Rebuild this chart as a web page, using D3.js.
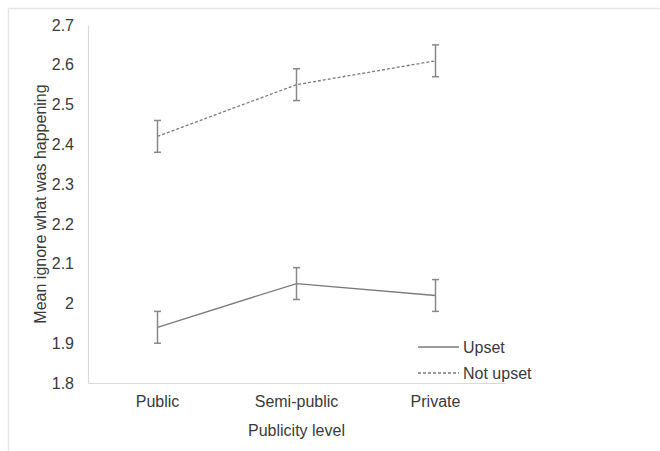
<!DOCTYPE html>
<html>
<head>
<meta charset="utf-8">
<script src="https://cdn.jsdelivr.net/npm/d3@7"></script>
<style>
  body { margin: 0; background: #fff; }
  svg text { font-family: "Liberation Sans", Arial, sans-serif; fill: #3a3a3a; }
</style>
</head>
<body>
<svg id="chart"></svg>
<script>
// chart data
const categories = ['Public', 'Semi-public', 'Private'];
const upsetMeans = [1.94, 2.05, 2.02];
const upsetErr = [0.04, 0.04, 0.04];
const notUpsetMeans = [2.42, 2.55, 2.61];
const notUpsetErr = [0.04, 0.04, 0.04];
const yTicks = [1.8, 1.9, 2, 2.1, 2.2, 2.3, 2.4, 2.5, 2.6, 2.7];

const width = 660, height = 451;
const margin = {top: 25, right: 155, bottom: 68, left: 88};
const fontSize = '16px';

const svg = d3.select('#chart')
  .attr('width', width)
  .attr('height', height);

// outer frame (only top and left edges show in the picture)
svg.append('path')
  .attr('d', `M8.5,${height} V8.5 H${width}`)
  .attr('fill', 'none')
  .attr('stroke', '#e6e6e6')
  .attr('stroke-width', 1.5);

const innerW = width - margin.left - margin.right;
const innerH = height - margin.top - margin.bottom;

const chart = svg.append('g')
  .attr('transform', `translate(${margin.left},${margin.top})`);

const xScale = d3.scaleBand()
  .domain(categories)
  .range([0, innerW]);

const yScale = d3.scaleLinear()
  .domain([1.8, 2.7])
  .range([innerH, 0]);

// axes
const xAxis = d3.axisBottom(xScale).tickSize(0).tickPadding(13);
const yAxis = d3.axisLeft(yScale).tickValues(yTicks).tickSize(0).tickPadding(14)
  .tickFormat(d => d3.format('')(+d.toFixed(1)));

const xAxisG = chart.append('g')
  .attr('transform', `translate(0,${innerH})`)
  .call(xAxis);
const yAxisG = chart.append('g').call(yAxis);

[xAxisG, yAxisG].forEach(g => {
  g.select('.domain').attr('stroke', '#d9d9d9').attr('stroke-width', 1.2);
  g.selectAll('text').style('font-size', fontSize).attr('fill', '#3a3a3a');
});

// axis titles
chart.append('text')
  .attr('x', innerW / 2)
  .attr('y', innerH + 53)
  .attr('text-anchor', 'middle')
  .style('font-size', fontSize)
  .text('Publicity level');

chart.append('text')
  .attr('transform', `translate(-42,${innerH / 2}) rotate(-90)`)
  .attr('text-anchor', 'middle')
  .style('font-size', fontSize)
  .text('Mean ignore what was happening');

const series = [
  {name: 'Upset', means: upsetMeans, err: upsetErr, dash: null},
  {name: 'Not upset', means: notUpsetMeans, err: notUpsetErr, dash: '3,2'}
];

const xc = c => xScale(c) + xScale.bandwidth() / 2;
const line = d3.line()
  .x(d => xc(d.cat))
  .y(d => yScale(d.v));

series.forEach(s => {
  const pts = categories.map((c, i) => ({cat: c, v: s.means[i], e: s.err[i]}));

  chart.append('path')
    .datum(pts)
    .attr('fill', 'none')
    .attr('stroke', '#7a7a7a')
    .attr('stroke-width', 1.3)
    .attr('stroke-dasharray', s.dash)
    .attr('d', line);

  // error bars
  const bars = chart.selectAll(null)
    .data(pts)
    .join('g')
    .attr('stroke', '#888')
    .attr('stroke-width', 1.5);
  bars.append('line')
    .attr('x1', d => xc(d.cat)).attr('x2', d => xc(d.cat))
    .attr('y1', d => yScale(d.v - d.e)).attr('y2', d => yScale(d.v + d.e));
  bars.append('line')
    .attr('x1', d => xc(d.cat) - 3.5).attr('x2', d => xc(d.cat) + 3.5)
    .attr('y1', d => yScale(d.v + d.e)).attr('y2', d => yScale(d.v + d.e));
  bars.append('line')
    .attr('x1', d => xc(d.cat) - 3.5).attr('x2', d => xc(d.cat) + 3.5)
    .attr('y1', d => yScale(d.v - d.e)).attr('y2', d => yScale(d.v - d.e));
});

// legend
const legend = chart.append('g')
  .attr('transform', `translate(${innerW - 87},${innerH - 36})`);
series.forEach((s, i) => {
  const g = legend.append('g').attr('transform', `translate(0,${i * 26})`);
  g.append('line')
    .attr('x1', 0).attr('x2', 41)
    .attr('stroke', '#7a7a7a')
    .attr('stroke-width', 1.3)
    .attr('stroke-dasharray', s.dash);
  g.append('text')
    .attr('x', 45)
    .attr('dy', '0.35em')
    .style('font-size', fontSize)
    .text(s.name);
});
</script>
</body>
</html>
